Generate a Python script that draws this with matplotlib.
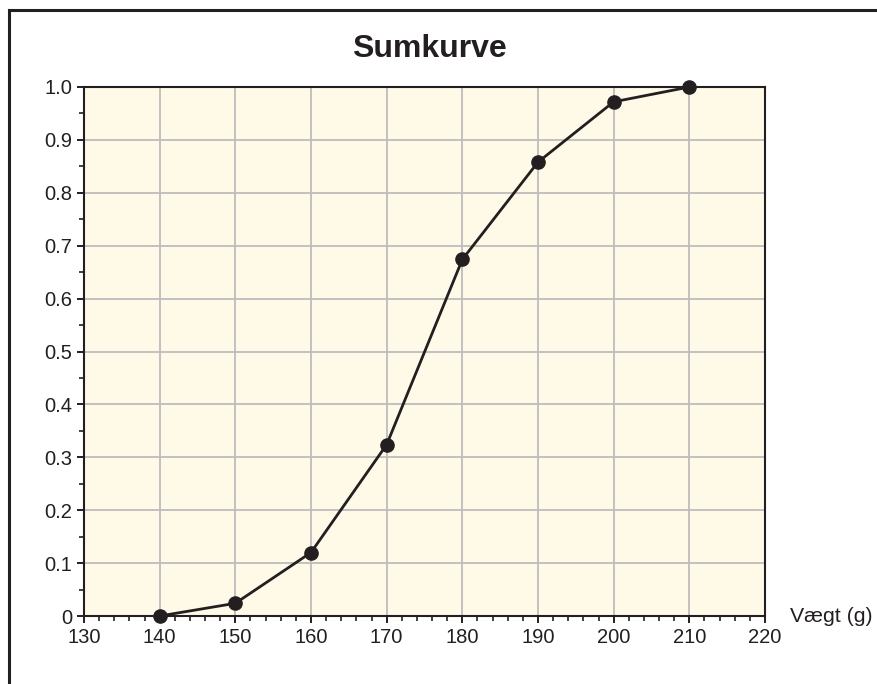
import matplotlib
matplotlib.use("Agg")
import matplotlib.pyplot as plt
from matplotlib.lines import Line2D
from matplotlib.ticker import FixedLocator, FixedFormatter, MultipleLocator

weights = [140, 150, 160, 170, 180, 190, 200, 210]
cumfreq = [0.0, 0.024, 0.120, 0.324, 0.674, 0.858, 0.972, 1.0]
xticks = [130, 140, 150, 160, 170, 180, 190, 200, 210, 220]
yticks = [0, 0.1, 0.2, 0.3, 0.4, 0.5, 0.6, 0.7, 0.8, 0.9, 1.0]
ylabels = ["0", "0.1", "0.2", "0.3", "0.4", "0.5", "0.6", "0.7", "0.8", "0.9", "1.0"]
title = "Sumkurve"
xlabel = "Vægt (g)"

plt.rcParams['font.family'] = ['Liberation Sans', 'DejaVu Sans']

fig = plt.figure(figsize=(8.77, 6.84), dpi=100)
ax = fig.add_axes([84/877, 1-616/684, (765-84)/877, (616-87)/684])
ax.set_facecolor('#FFFAE8')

ax.plot(weights, cumfreq, color='#231F20', lw=2.0, marker='o', ms=9.5,
        mfc='#231F20', mec='#231F20', zorder=5, clip_on=False)

ax.set_xlim(130, 220)
ax.set_ylim(0, 1.0)
ax.xaxis.set_major_locator(FixedLocator(xticks))
ax.xaxis.set_minor_locator(MultipleLocator(2))
ax.yaxis.set_major_locator(FixedLocator(yticks))
ax.yaxis.set_major_formatter(FixedFormatter(ylabels))
ax.yaxis.set_minor_locator(MultipleLocator(0.05))

ax.grid(True, which='major', color='#BDBDBD', lw=1.3)
ax.set_axisbelow(True)

for s in ax.spines.values():
    s.set_color('#231F20')
    s.set_linewidth(1.5)

ax.tick_params(axis='both', which='major', direction='out', length=5, width=1.4,
               color='#231F20', labelsize=14.5, labelcolor='#231F20', pad=3.6)
ax.tick_params(axis='both', which='minor', direction='out', length=3.5, width=1.2,
               color='#231F20')

fig.text(429/877, 1-49/684, title, ha='center', va='center', fontsize=23,
         fontweight='bold', color='#231F20')
fig.text(790/877, 1-616/684, xlabel, ha='left', va='center', fontsize=15.3,
         color='#231F20')

# outer frame
fig.add_artist(Line2D([8.5/877, 1.0], [1-10/684, 1-10/684], color='#231F20', lw=2.2,
                      transform=fig.transFigure))
fig.add_artist(Line2D([8.5/877, 8.5/877], [0.0, 1-10/684], color='#231F20', lw=2.2,
                      transform=fig.transFigure))

fig.savefig('out.png', dpi=100, facecolor='white')
